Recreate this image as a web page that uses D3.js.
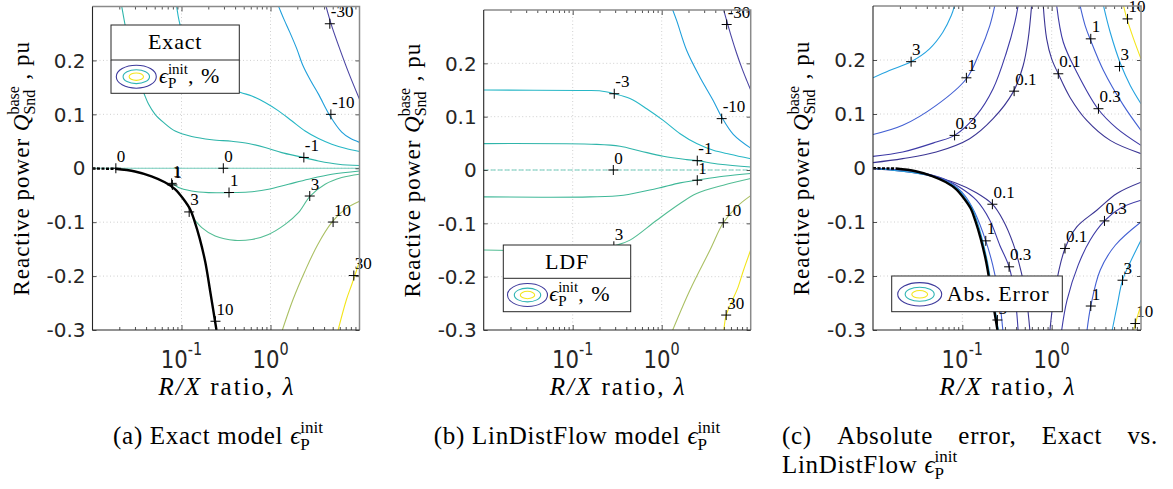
<!DOCTYPE html>
<html>
<head>
<meta charset="utf-8">
<title>Initial active power error vs R/X ratio</title>
<script src="https://cdn.jsdelivr.net/npm/d3@7"></script>
<style>
  html, body { margin: 0; padding: 0; background: #fff; }
  svg { display: block; }
  text { white-space: pre; }
</style>
</head>
<body>
<svg id="fig" width="1173" height="489"></svg>
<script>
// ---------------- data ----------------
const lambdaDomain = [0.01, 10];
const qDomain = [-0.3, 0.3];
const qTicks = [-0.3, -0.2, -0.1, 0, 0.1, 0.2];
const qTickLabels = ["-0.3", "-0.2", "-0.1", "0", "0.1", "0.2"];
const lambdaLabelTicks = [0.1, 1];
const lambdaTickExponents = ["-1", "0"];
const lambdaMinorTicks = [0.02, 0.03, 0.04, 0.05, 0.06, 0.07, 0.08, 0.09,
                          0.2, 0.3, 0.4, 0.5, 0.6, 0.7, 0.8, 0.9,
                          2, 3, 4, 5, 6, 7, 8, 9];

// boundary of the feasible region (thick black), shared by the exact and error plots
const boundaryDashed = [[0.01, -0.0005], [0.018, -0.001]];
const boundarySolid = [[0.018, -0.001], [0.030, -0.006], [0.046, -0.015], [0.065, -0.026],
  [0.085, -0.039], [0.105, -0.057], [0.125, -0.076], [0.14, -0.098], [0.16, -0.13],
  [0.185, -0.174], [0.21, -0.228], [0.247, -0.30]];

// (a) exact model, contour levels in %
const exactM30 = [[4.18, 0.302], [4.85, 0.265], [6.01, 0.221], [7.64, 0.175], [10, 0.128]];
const exactM10 = [[1.22, 0.302], [1.41, 0.277], [1.65, 0.252], [1.98, 0.221], [2.32, 0.19],
  [2.77, 0.165], [3.46, 0.1375], [4.67, 0.097], [6.32, 0.067], [7.78, 0.056], [10, 0.048]];
const exactM3 = [[0.0879, 0.302], [0.0957, 0.268], [0.124, 0.212], [0.208, 0.165], [0.455, 0.141],
  [0.617, 0.134], [0.870, 0.122], [1.23, 0.1065], [1.73, 0.088], [2.45, 0.069], [3.46, 0.055],
  [4.88, 0.0446], [6.89, 0.037], [10, 0.031]];
const exactM1 = [[0.0212, 0.302], [0.0231, 0.268], [0.0262, 0.221], [0.0307, 0.175], [0.0374, 0.141],
  [0.0426, 0.119], [0.0505, 0.100], [0.0628, 0.085], [0.0848, 0.069], [0.130, 0.059], [0.219, 0.053],
  [0.367, 0.050], [0.566, 0.046], [0.870, 0.0385], [1.34, 0.029], [2.06, 0.022], [3.46, 0.0136],
  [5.81, 0.0074], [10, 0.005]];
const exactZero = [[0.01, 0], [10, 0]];
const exactP1 = [[0.0778, -0.0266], [0.0925, -0.0359], [0.130, -0.0422], [0.201, -0.0452], [0.337, -0.0452],
  [0.566, -0.0441], [0.950, -0.039], [1.59, -0.0297], [2.67, -0.0204], [4.88, -0.0112], [10, -0.005]];
const exactP3 = [[0.135, -0.092], [0.169, -0.110], [0.239, -0.1258], [0.400, -0.1338], [0.617, -0.132],
  [0.950, -0.1227], [1.46, -0.1041], [2.06, -0.0824], [2.79, -0.0515], [4.11, -0.0297], [6.32, -0.0173],
  [10, -0.0112]];
const exactP10 = [[1.36, -0.300], [1.79, -0.2435], [2.43, -0.1914], [3.40, -0.1413], [4.88, -0.1004],
  [6.84, -0.0762], [10, -0.0613]];
const exactP30 = [[5.75, -0.300], [7.14, -0.2435], [8.19, -0.2156], [10, -0.1729]];
const exactLabels = [[4.64, 0.268, "-30"], [4.77, 0.100, "-10"], [2.37, 0.020, "-1"],
  [0.0183, 0, "0"], [0.295, 0, "0"], [0.0775, -0.028, "1"], [0.079, -0.031, "1"],
  [0.342, -0.045, "1"], [0.122, -0.081, "3"], [2.76, -0.0515, "3"], [5.05, -0.0998, "10"],
  [8.63, -0.199, "30"], [0.241, -0.2838, "10"]];

// (b) LinDistFlow model, contour levels in %
const ldfM30 = [[4.88, 0.305], [5.37, 0.280], [6.01, 0.252], [6.96, 0.2185], [7.98, 0.1905],
  [9.02, 0.168], [10, 0.150]];
const ldfM10 = [[1.295, 0.305], [1.474, 0.280], [1.91, 0.224], [2.69, 0.174], [3.80, 0.130],
  [4.72, 0.0993], [6.37, 0.0669], [10, 0.041]];
const ldfM3 = [[0.01, 0.15], [0.121, 0.149], [0.2, 0.1485], [0.293, 0.143], [0.440, 0.134],
  [0.678, 0.115], [1.04, 0.093], [1.61, 0.068], [2.47, 0.0495], [3.80, 0.037], [5.85, 0.0295], [10, 0.021]];
const ldfM1 = [[0.01, 0.0495], [0.186, 0.048], [0.340, 0.0445], [0.570, 0.0357], [1.04, 0.0257],
  [1.91, 0.0195], [2.51, 0.0175], [4.52, 0.0108], [10, 0.0057]];
const ldfZero = [[0.01, 0], [10, 0]];
const ldfP1 = [[0.01, -0.0504], [0.156, -0.0504], [0.371, -0.0473], [0.879, -0.0347], [1.61, -0.0242],
  [2.47, -0.0192], [4.92, -0.0117], [10, -0.0066]];
const ldfP3 = [[0.01, -0.150], [0.2, -0.149], [0.312, -0.1409], [0.440, -0.1315], [0.879, -0.0941],
  [1.61, -0.0628], [2.47, -0.0441], [4.92, -0.0285], [10, -0.016]];
const ldfP10 = [[1.33, -0.300], [2.08, -0.225], [3.49, -0.150], [4.92, -0.099], [6.96, -0.069], [10, -0.048]];
const ldfP30 = [[5.0, -0.300], [5.3, -0.272], [6.2, -0.245], [7.2, -0.22], [8.3, -0.188], [10, -0.150]];
const ldfLabels = [[5.37, 0.2728, "-30"], [4.72, 0.0963, "-10"], [0.293, 0.143, "-3"],
  [2.51, 0.0175, "-1"], [0.286, 0, "0"], [2.51, -0.0192, "1"], [0.29, -0.143, "3"],
  [4.92, -0.099, "10"], [5.3, -0.272, "30"]];

// (c) absolute error between the two models, contour levels in %
const errUL3 = [[0.01, 0.167], [0.01524, 0.1806], [0.0267, 0.1969], [0.0429, 0.2207], [0.0605, 0.2514],
  [0.0752, 0.2823], [0.0819, 0.3007]];
const errUL1 = [[0.01, 0.062], [0.0215, 0.079], [0.0510, 0.1159], [0.111, 0.1653], [0.156, 0.2144],
  [0.203, 0.2638], [0.231, 0.3007]];
const errUL03 = [[0.01, 0.0215], [0.0215, 0.0296], [0.0510, 0.0481], [0.0819, 0.0604], [0.1436, 0.0974],
  [0.221, 0.1468], [0.312, 0.2144], [0.387, 0.2699], [0.421, 0.3007]];
const errUL01 = [[0.01, 0.010], [0.0215, 0.0174], [0.0510, 0.0296], [0.1208, 0.0543], [0.221, 0.0913],
  [0.370, 0.1405], [0.480, 0.1898], [0.546, 0.2392], [0.596, 0.3007]];
const errUR01 = [[0.805, 0.3007], [0.879, 0.2392], [1.0, 0.2022], [1.186, 0.1745], [1.606, 0.1307],
  [2.47, 0.0881], [4.52, 0.0511], [10, 0.0266]];
const errUR03 = [[1.138, 0.3007], [1.35, 0.2329], [1.91, 0.1775], [3.29, 0.1098], [5.37, 0.0734], [10, 0.042]];
const errUR1 = [[2.08, 0.3007], [2.37, 0.2638], [2.69, 0.2392], [3.80, 0.1807], [6.37, 0.1159], [10, 0.0697]];
const errUR3 = [[3.80, 0.3007], [4.52, 0.2514], [5.96, 0.1911], [7.58, 0.1529], [10, 0.119]];
const errUR10 = [[6.37, 0.3007], [6.96, 0.2761], [8.26, 0.2392], [10, 0.2022]];
const errLL01 = [[0.01, -0.0015], [0.0213, -0.0061], [0.0429, -0.0144], [0.0857, -0.0283], [0.1436, -0.0458],
  [0.217, -0.0671], [0.286, -0.0967], [0.370, -0.1397], [0.460, -0.1952], [0.524, -0.2445], [0.570, -0.300]];
const errLL03 = [[0.01, -0.001], [0.0256, -0.0052], [0.0556, -0.0172], [0.0933, -0.0357], [0.1436, -0.0597],
  [0.203, -0.0967], [0.2625, -0.1429], [0.334, -0.1830], [0.387, -0.2353], [0.421, -0.300]];
const errLL1 = [[0.01, -0.0008], [0.0331, -0.008], [0.072, -0.0264], [0.106, -0.0505], [0.1375, -0.0819],
  [0.183, -0.1349], [0.219, -0.1799], [0.256, -0.2353], [0.284, -0.300]];
const errLL3 = [[0.01, -0.0005], [0.05, -0.017], [0.085, -0.036], [0.11, -0.057], [0.13, -0.076],
  [0.146, -0.098], [0.166, -0.13], [0.191, -0.174], [0.216, -0.228], [0.253, -0.30]];
const errLR01 = [[0.957, -0.300], [1.089, -0.226], [1.41, -0.149], [1.91, -0.109], [3.2, -0.0782],
  [5.37, -0.0473], [10, -0.0264]];
const errLR03 = [[1.295, -0.300], [1.486, -0.2445], [1.98, -0.1799], [2.69, -0.1337], [3.90, -0.098],
  [5.85, -0.0745], [10, -0.0597]];
const errLR1 = [[2.49, -0.300], [2.74, -0.2556], [3.49, -0.1893], [5.15, -0.1431], [10, -0.1]];
const errLR3 = [[4.76, -0.300], [5.42, -0.254], [6.21, -0.2078], [7.58, -0.1745], [10, -0.1338]];
const errLR10 = [[8.3, -0.300], [9.3, -0.27], [10, -0.255]];
const errLabels = [[0.0267, 0.1969, "3"], [0.111, 0.167, "1"], [0.0819, 0.0604, "0.3"],
  [0.380, 0.1423, "0.1"], [1.186, 0.1745, "0.1"], [3.34, 0.1098, "0.3"], [2.74, 0.2392, "1"],
  [5.75, 0.188, "3"], [7.07, 0.2761, "10"], [0.217, -0.0671, "0.1"], [0.183, -0.1349, "1"],
  [0.334, -0.183, "0.3"], [0.247, -0.2815, "3"], [1.41, -0.149, "0.1"], [3.90, -0.098, "0.3"],
  [2.74, -0.2556, "1"], [6.21, -0.2078, "3"], [8.63, -0.288, "10"]];

const exactSeries = [[-30, exactM30], [-10, exactM10], [-3, exactM3], [-1, exactM1], [0, exactZero],
  [1, exactP1], [3, exactP3], [10, exactP10], [30, exactP30]];
const ldfSeries = [[-30, ldfM30], [-10, ldfM10], [-3, ldfM3], [-1, ldfM1], [0, ldfZero],
  [1, ldfP1], [3, ldfP3], [10, ldfP10], [30, ldfP30]];
const errSeries = [[0.1, errUL01], [0.1, errUR01], [0.1, errLL01], [0.1, errLR01],
  [0.3, errUL03], [0.3, errUR03], [0.3, errLL03], [0.3, errLR03],
  [1, errUL1], [1, errUR1], [1, errLL1], [1, errLR1],
  [3, errUL3], [3, errUR3], [3, errLL3], [3, errLR3],
  [10, errUR10], [10, errLR10]];

const captionCWords = ["(c)", "Absolute", "error,", "Exact", "vs."];

// ---------------- styles ----------------
const SERIF = "'Liberation Serif', 'Times New Roman', 'DejaVu Serif', serif";
const SANS = "'DejaVu Sans', 'Liberation Sans', Arial, sans-serif";
const AX = "#262626";
const CAP = 25;          // caption font size
const CAP_LS = 0.7;      // caption letter spacing
const levelColor = { "-30": "#4b45a3", "-10": "#1f9fdb", "-3": "#27b7c6", "-1": "#2fb5aa",
  "0": "#74cdbd", "1": "#3fb898", "3": "#53bd94", "10": "#abc064", "30": "#f3e51c" };
const errorColor = { "0.1": "#3b3594", "0.3": "#3d3aa6", "1": "#4360d3", "3": "#25a3e0", "10": "#f3e51c" };

const svg = d3.select("#fig");

// Lays text pieces out left to right from the parent origin (on the baseline).
// A piece is either plain text {t,size,italic,ls,family} or a stacked script {sup,sub,size,up,down}.
function richText(parent, pieces, anchor) {
  const g = parent.append("g");
  let cx = 0;
  const put = (str, size, italic, ls, family, px, py) => {
    const t = g.append("text").attr("x", px).attr("y", py)
      .attr("font-family", family || SERIF).attr("font-size", size)
      .attr("font-style", italic ? "italic" : "normal")
      .style("letter-spacing", (ls || 0) + "px")
      .attr("fill", "#000").text(str);
    return t.node().getComputedTextLength();
  };
  for (const p of pieces) {
    if (p.t !== undefined) {
      cx += put(p.t, p.size, p.italic, p.ls, p.family, cx, p.dy || 0);
    } else {
      let w = 0;
      if (p.sup) w = Math.max(w, put(p.sup, p.size, false, p.ls, p.family, cx, -p.up));
      if (p.sub) w = Math.max(w, put(p.sub, p.size, false, p.ls, p.family, cx, p.down));
      cx += w;
    }
  }
  const shift = anchor === "middle" ? -cx / 2 : anchor === "end" ? -cx : 0;
  g.attr("transform", `translate(${shift},0)`);
  return cx;
}

let clipSeq = 0;

function drawPanel(L, series, colorOf, labels, opts) {
  const x = d3.scaleLog().domain(lambdaDomain).range([L.left, L.right]);
  const y = d3.scaleLinear().domain(qDomain).range([L.bottom, L.top]);
  const g = svg.append("g");
  const clipId = "plotclip" + (clipSeq++);
  g.append("clipPath").attr("id", clipId).append("rect")
    .attr("x", L.left).attr("y", L.top).attr("width", L.right - L.left).attr("height", L.bottom - L.top);

  // dotted grid at the major ticks
  const grid = g.append("g").attr("stroke", "#c4c4c4").attr("stroke-width", 0.8)
    .attr("stroke-dasharray", "1,2.5");
  lambdaLabelTicks.forEach(v => grid.append("line")
    .attr("x1", x(v)).attr("x2", x(v)).attr("y1", L.top).attr("y2", L.bottom));
  qTicks.filter(v => v > qDomain[0]).forEach(v => grid.append("line")
    .attr("x1", L.left).attr("x2", L.right).attr("y1", y(v)).attr("y2", y(v)));

  const plot = g.append("g").attr("clip-path", `url(#${clipId})`);
  const line = d3.line().x(d => x(d[0])).y(d => y(d[1])).curve(d3.curveCatmullRom.alpha(0.5));

  series.forEach(([lev, pts]) => {
    const p = plot.append("path").datum(pts).attr("d", line)
      .attr("fill", "none").attr("stroke", colorOf[String(lev)]).attr("stroke-width", 1.1);
    if (lev === 0 && opts.zeroDashed) p.attr("stroke-dasharray", "5,2");
  });

  if (opts.boundary) {
    plot.append("path").datum(boundaryDashed).attr("d", line).attr("fill", "none")
      .attr("stroke", "#000").attr("stroke-width", 2.4).attr("stroke-dasharray", "3,1.5");
    plot.append("path").datum(boundarySolid).attr("d", line).attr("fill", "none")
      .attr("stroke", "#000").attr("stroke-width", 2.4);
  }

  // contour labels: a cross on the line with the level written above right
  const lab = g.append("g");
  labels.forEach(([lam, q, txt]) => {
    const px = x(lam), py = y(q);
    lab.append("path").attr("d", `M${px - 5},${py}H${px + 5}M${px},${py - 5}V${py + 5}`)
      .attr("stroke", "#000").attr("stroke-width", 1).attr("fill", "none");
    lab.append("text").attr("x", px + 1).attr("y", py - 6.5).text(txt)
      .attr("font-family", SERIF).attr("font-size", 17).attr("fill", "#000");
  });

  // tick marks (inside) on all four sides
  const tickSet = (gen, tr, vals, len) => {
    g.append("g").attr("transform", tr)
      .call(gen.tickValues(vals).tickSizeInner(-len).tickSizeOuter(0).tickFormat(() => ""))
      .call(s => s.select(".domain").remove())
      .call(s => s.selectAll("line").attr("stroke", AX).attr("stroke-width", 0.8));
  };
  tickSet(d3.axisBottom(x), `translate(0,${L.bottom})`, lambdaLabelTicks, 5);
  tickSet(d3.axisBottom(x), `translate(0,${L.bottom})`, lambdaMinorTicks, 3);
  tickSet(d3.axisTop(x), `translate(0,${L.top})`, lambdaLabelTicks, 5);
  tickSet(d3.axisTop(x), `translate(0,${L.top})`, lambdaMinorTicks, 3);
  tickSet(d3.axisLeft(y), `translate(${L.left},0)`, qTicks, 4);
  tickSet(d3.axisRight(y), `translate(${L.right},0)`, qTicks, 4);

  // axes box
  g.append("path").attr("d", `M${L.left},${L.top}H${L.right}V${L.bottom}`)
    .attr("fill", "none").attr("stroke", "#8a8a8a").attr("stroke-width", 1.5);
  g.append("path").attr("d", `M${L.left},${L.top}V${L.bottom}H${L.right}`)
    .attr("fill", "none").attr("stroke", AX).attr("stroke-width", 1.1);

  // y tick labels
  qTicks.forEach((v, i) => {
    g.append("text").attr("x", L.left - 7).attr("y", y(v)).attr("dy", "0.36em")
      .attr("text-anchor", "end").attr("font-family", SANS).attr("font-size", 20)
      .attr("fill", "#262626").text(qTickLabels[i]);
  });
  // x tick labels 10^k
  lambdaLabelTicks.forEach((v, i) => {
    const tg = g.append("g").attr("transform", `translate(${x(v)},368) scale(0.85,1)`);
    richText(tg, [
      { t: "10", size: 25, family: SANS },
      { sup: lambdaTickExponents[i], size: 17, up: 13, family: SANS }
    ], "middle");
    tg.selectAll("text").attr("fill", "#262626");
  });

  // axis titles
  const xl = g.append("g").attr("transform", `translate(${(L.left + L.right) / 2},395)`);
  richText(xl, [
    { t: "R/X", size: 25, italic: true, ls: 2 },
    { t: " ratio, ", size: 25, ls: 2 },
    { t: "λ", size: 25, italic: true }
  ], "middle");
  const yl = g.append("g").attr("transform", `translate(${L.left - 64},${(L.top + L.bottom) / 2}) rotate(-90)`);
  richText(yl, [
    { t: "Reactive power ", size: 23, ls: 1 },
    { t: "Q", size: 23, italic: true },
    { sup: "base", sub: "Snd", size: 16, up: 10, down: 6 },
    { t: " , pu", size: 23, ls: 1 }
  ], "middle");

  // legend with the nested ellipse icon
  const lg = opts.legend;
  const leg = g.append("g");
  leg.append("rect").attr("x", lg.x).attr("y", lg.y).attr("width", lg.w).attr("height", lg.h)
    .attr("fill", "#fff").attr("stroke", AX).attr("stroke-width", 1);
  if (lg.title) {
    leg.append("line").attr("x1", lg.x).attr("x2", lg.x + lg.w).attr("y1", lg.split).attr("y2", lg.split)
      .attr("stroke", AX).attr("stroke-width", 1);
    leg.append("text").attr("x", lg.x + lg.w / 2).attr("y", lg.titleY).attr("text-anchor", "middle")
      .attr("font-family", SERIF).attr("font-size", 22).style("letter-spacing", "0.8px")
      .attr("fill", "#000").text(lg.title);
  }
  [[lg.rx, lg.ry, "#3e3a9c"], [lg.rx * 0.66, lg.ry * 0.6, "#2fb4b4"], [lg.rx * 0.36, lg.ry * 0.32, "#f3e51c"]]
    .forEach(([rx, ry, c]) => leg.append("ellipse").attr("cx", lg.cx).attr("cy", lg.cy)
      .attr("rx", rx).attr("ry", ry).attr("fill", "none").attr("stroke", c).attr("stroke-width", 1.1));
  const lt = leg.append("g").attr("transform", `translate(${lg.textX},${lg.textY})`);
  if (lg.text) {
    richText(lt, [{ t: lg.text, size: 22, ls: 1 }], "start");
  } else {
    richText(lt, [
      { t: "ϵ", size: 22, italic: true },
      { sup: "init", sub: "P", size: 15, up: 9, down: 5 },
      { t: ", %", size: 22, ls: 1 }
    ], "start");
  }
}

const panelA = { left: 92.5, right: 359.5, top: 6.5, bottom: 330 };
const panelB = { left: 483.7, right: 750.7, top: 10, bottom: 330 };
const panelC = { left: 873, right: 1141, top: 6, bottom: 330 };

drawPanel(panelA, exactSeries, levelColor, exactLabels, {
  boundary: true, zeroDashed: false,
  legend: { x: 111, y: 25, w: 128.3, h: 68.3, split: 60, title: "Exact", titleY: 49,
            cx: 136.3, cy: 76.7, rx: 20, ry: 11.5, textX: 159, textY: 83 }
});
drawPanel(panelB, ldfSeries, levelColor, ldfLabels, {
  boundary: false, zeroDashed: true,
  legend: { x: 503.3, y: 245, w: 127.4, h: 66.7, split: 278.3, title: "LDF", titleY: 268.5,
            cx: 527.5, cy: 295, rx: 20, ry: 11.5, textX: 549.3, textY: 301 }
});
drawPanel(panelC, errSeries, errorColor, errLabels, {
  boundary: true, zeroDashed: false,
  legend: { x: 891.7, y: 276, w: 170.6, h: 35.7, cx: 919.7, cy: 294.3, rx: 22, ry: 11.7,
            textX: 946.7, textY: 300.5, text: "Abs. Error" }
});

// sub-figure captions
const capA = svg.append("g").attr("transform", "translate(218,444)");
richText(capA, [
  { t: "(a) Exact model ", size: CAP, ls: CAP_LS },
  { t: "ϵ", size: CAP, italic: true },
  { sup: "init", sub: "P", size: 17, up: 11, down: 6 }
], "middle");
const capB = svg.append("g").attr("transform", "translate(577,444)");
richText(capB, [
  { t: "(b) LinDistFlow model ", size: CAP, ls: CAP_LS },
  { t: "ϵ", size: CAP, italic: true },
  { sup: "init", sub: "P", size: 17, up: 11, down: 6 }
], "middle");

// first caption line of (c) is justified: words spread across the full column width
const capC1 = svg.append("g");
const wordNodes = captionCWords.map(w => capC1.append("text").attr("y", 444)
  .attr("font-family", SERIF).attr("font-size", CAP).style("letter-spacing", CAP_LS + "px")
  .attr("fill", "#000").text(w));
const wordWidths = wordNodes.map(n => n.node().getComputedTextLength());
const colStart = 782, colEnd = 1158;
const gap = (colEnd - colStart - d3.sum(wordWidths)) / (captionCWords.length - 1);
let wx = colStart;
wordNodes.forEach((n, i) => { n.attr("x", wx); wx += wordWidths[i] + gap; });

const capC2 = svg.append("g").attr("transform", "translate(782,473)");
richText(capC2, [
  { t: "LinDistFlow ", size: CAP, ls: CAP_LS },
  { t: "ϵ", size: CAP, italic: true },
  { sup: "init", sub: "P", size: 17, up: 11, down: 6 }
], "start");
</script>
</body>
</html>
